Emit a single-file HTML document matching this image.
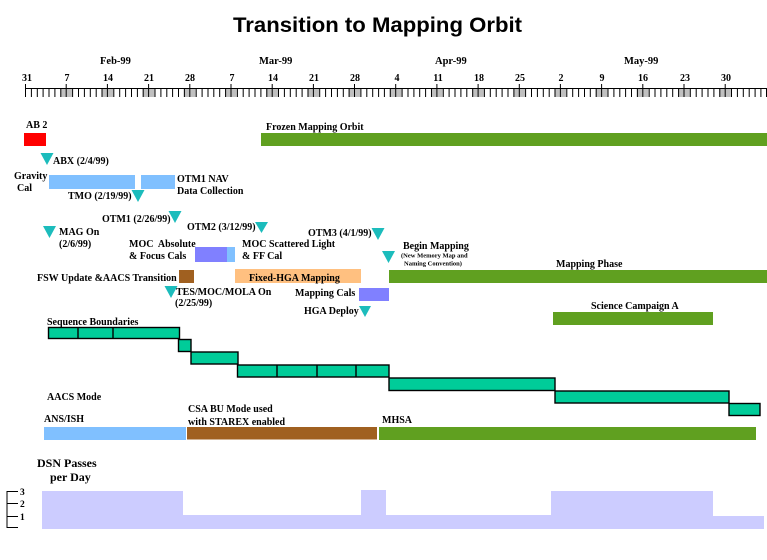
<!DOCTYPE html>
<html><head><meta charset="utf-8"><style>
html,body{margin:0;padding:0;background:#fff;}
svg{display:block;}
text{font-family:"Liberation Serif",serif;font-weight:bold;font-size:10px;fill:#000;}
.t{font-family:"Liberation Sans",sans-serif;font-size:21px;}
.tiny{font-size:6.5px;}
.big{font-size:12px;}
</style></head><body>
<svg width="767" height="560" viewBox="0 0 767 560" xmlns="http://www.w3.org/2000/svg">
<rect width="767" height="560" fill="#fff"/>
<text class="t" x="233" y="32" textLength="289" lengthAdjust="spacingAndGlyphs">Transition to Mapping Orbit</text>

<!-- months -->
<text x="100" y="64" style="font-size:10.5px">Feb-99</text>
<text x="259" y="64" style="font-size:10.5px">Mar-99</text>
<text x="435" y="64" style="font-size:10.5px">Apr-99</text>
<text x="624" y="64" style="font-size:10.5px">May-99</text>

<!-- weekend shading -->
<g fill="#c0c0c0">
<rect x="60.3" y="88" width="11.8" height="9"/>
<rect x="101.5" y="88" width="11.8" height="9"/>
<rect x="142.6" y="88" width="11.8" height="9"/>
<rect x="183.8" y="88" width="11.8" height="9"/>
<rect x="225" y="88" width="11.8" height="9"/>
<rect x="266.2" y="88" width="11.8" height="9"/>
<rect x="307.4" y="88" width="11.8" height="9"/>
<rect x="348.5" y="88" width="11.8" height="9"/>
<rect x="389.7" y="88" width="11.8" height="9"/>
<rect x="430.9" y="88" width="11.8" height="9"/>
<rect x="472.1" y="88" width="11.8" height="9"/>
<rect x="513.3" y="88" width="11.8" height="9"/>
<rect x="554.4" y="88" width="11.8" height="9"/>
<rect x="595.6" y="88" width="11.8" height="9"/>
<rect x="636.8" y="88" width="11.8" height="9"/>
<rect x="678" y="88" width="11.8" height="9"/>
<rect x="719.1" y="88" width="11.8" height="9"/>
</g>
<line x1="25" y1="88.5" x2="767" y2="88.5" stroke="#000" stroke-width="1"/>
<g id="ticks" stroke="#000" stroke-width="1"></g>

<!-- day labels -->
<g text-anchor="middle">
<text x="27" y="81">31</text>
<text x="67" y="81">7</text>
<text x="108" y="81">14</text>
<text x="149" y="81">21</text>
<text x="190" y="81">28</text>
<text x="232" y="81">7</text>
<text x="273" y="81">14</text>
<text x="314" y="81">21</text>
<text x="355" y="81">28</text>
<text x="397" y="81">4</text>
<text x="438" y="81">11</text>
<text x="479" y="81">18</text>
<text x="520" y="81">25</text>
<text x="561" y="81">2</text>
<text x="602" y="81">9</text>
<text x="643" y="81">16</text>
<text x="685" y="81">23</text>
<text x="726" y="81">30</text>
</g>

<!-- AB2 / frozen -->
<text x="26" y="128">AB 2</text>
<rect x="24" y="133" width="22" height="13" fill="#ff0000"/>
<text x="266" y="130">Frozen Mapping Orbit</text>
<rect x="261" y="133" width="506" height="13" fill="#60a020"/>

<!-- triangles -->
<g fill="#1cbcbc">
<polygon points="40.5,153 53.5,153 47,165"/>
<polygon points="131.5,190 144.5,190 138,202"/>
<polygon points="168.5,211 181.5,211 175,223"/>
<polygon points="255,222 268,222 261.5,233"/>
<polygon points="43,226 56,226 49.5,238"/>
<polygon points="371.5,228 384.5,228 378,240"/>
<polygon points="382,251 395,251 388.5,263"/>
<polygon points="164.5,286 177.5,286 171,298"/>
<polygon points="359,306 371,306 365,317"/>
</g>

<text x="53" y="164">ABX (2/4/99)</text>
<text x="14" y="179">Gravity</text>
<text x="17" y="191">Cal</text>
<rect x="49" y="175" width="86" height="14" fill="#80c0ff"/>
<rect x="141" y="175" width="34" height="14" fill="#80c0ff"/>
<text x="177" y="182">OTM1 NAV</text>
<text x="177" y="194">Data Collection</text>
<text x="68" y="199">TMO (2/19/99)</text>
<text x="102" y="222">OTM1 (2/26/99)</text>
<text x="187" y="230">OTM2 (3/12/99)</text>
<text x="59" y="235">MAG On</text>
<text x="59" y="247">(2/6/99)</text>
<text x="308" y="236">OTM3 (4/1/99)</text>

<text x="129" y="247" xml:space="preserve">MOC  Absolute</text>
<text x="129" y="259">&amp; Focus Cals</text>
<rect x="195" y="247" width="32" height="15" fill="#8080ff"/>
<rect x="227" y="247" width="8" height="15" fill="#80c0ff"/>
<text x="242" y="247">MOC Scattered Light</text>
<text x="242" y="259">&amp; FF Cal</text>

<text x="403" y="249">Begin Mapping</text>
<text class="tiny" x="401" y="257.5">(New Memory Map and</text>
<text class="tiny" x="404" y="265.5">Naming Convention)</text>

<text x="37" y="281">FSW Update &amp;AACS Transition</text>
<rect x="179" y="270" width="15" height="13" fill="#a06020"/>
<rect x="235" y="269" width="126" height="14" fill="#ffc080"/>
<text x="249" y="281">Fixed-HGA Mapping</text>
<text x="556" y="267">Mapping Phase</text>
<rect x="389" y="270" width="378" height="13" fill="#60a020"/>

<text x="176" y="295">TES/MOC/MOLA On</text>
<text x="175" y="306">(2/25/99)</text>
<text x="295" y="296">Mapping Cals</text>
<rect x="359" y="288" width="30" height="13" fill="#8080ff"/>
<text x="304" y="314">HGA Deploy</text>

<text x="591" y="309">Science Campaign A</text>
<rect x="553" y="312" width="160" height="13" fill="#60a020"/>

<text x="47" y="325">Sequence Boundaries</text>
<g fill="#00cc99" stroke="#000" stroke-width="1.4">
<rect x="48.5" y="327.5" width="131" height="11"/>
<rect x="178.5" y="339.5" width="12.5" height="12"/>
<rect x="191" y="352" width="47" height="12"/>
<rect x="237.5" y="365" width="151.5" height="12"/>
<rect x="389" y="378" width="166" height="12.5"/>
<rect x="555" y="391" width="174" height="12"/>
<rect x="729" y="403.5" width="31" height="12"/>
</g>
<g stroke="#000" stroke-width="1.4">
<line x1="78" y1="327.5" x2="78" y2="338.5"/>
<line x1="113" y1="327.5" x2="113" y2="338.5"/>
<line x1="277" y1="365" x2="277" y2="377"/>
<line x1="317" y1="365" x2="317" y2="377"/>
<line x1="356" y1="365" x2="356" y2="377"/>
</g>
<text x="47" y="400">AACS Mode</text>

<text x="44" y="422">ANS/ISH</text>
<text x="188" y="412">CSA BU Mode used</text>
<text x="188" y="425">with STAREX enabled</text>
<text x="382" y="423">MHSA</text>
<rect x="44" y="427" width="142" height="13" fill="#80c0ff"/>
<rect x="187" y="427" width="190" height="12.5" fill="#a06020"/>
<rect x="379" y="427" width="377" height="13" fill="#60a020"/>

<text class="big" x="37" y="467">DSN Passes</text>
<text class="big" x="50" y="481">per Day</text>

<polygon fill="#ccccff" points="42,491 183,491 183,515 361,515 361,490 386,490 386,515 551,515 551,491 713,491 713,516 764,516 764,529 42,529"/>
<g stroke="#000" stroke-width="1">
<line x1="7" y1="491" x2="7" y2="528"/>
<line x1="7" y1="491.5" x2="18" y2="491.5"/>
<line x1="7" y1="503.5" x2="18" y2="503.5"/>
<line x1="7" y1="516.5" x2="18" y2="516.5"/>
<line x1="7" y1="527.5" x2="18" y2="527.5"/>
</g>
<text x="20" y="495" style="font-size:9.5px">3</text>
<text x="20" y="507" style="font-size:9.5px">2</text>
<text x="20" y="520" style="font-size:9.5px">1</text>

<!-- day ticks -->
<g stroke="#000" stroke-width="1">
<path d="M25.5 84V97 M31.4 88V97 M37.3 88V97 M43.1 88V97 M49 88V97 M54.9 88V97 M60.8 88V97 M66.2 84V97 M72.6 88V97 M78.5 88V97 M84.4 88V97 M90.3 88V97 M96.2 88V97 M102 88V97 M107.4 84V97 M113.8 88V97 M119.7 88V97 M125.6 88V97 M131.5 88V97 M137.4 88V97 M143.2 88V97 M148.6 84V97 M155 88V97 M160.9 88V97 M166.8 88V97 M172.6 88V97 M178.5 88V97 M184.4 88V97 M189.8 84V97 M196.2 88V97 M202.1 88V97 M208 88V97 M213.8 88V97 M219.7 88V97 M225.6 88V97 M231 84V97 M237.4 88V97 M243.2 88V97 M249.1 88V97 M255 88V97 M260.9 88V97 M266.8 88V97 M272.2 84V97 M278.5 88V97 M284.4 88V97 M290.3 88V97 M296.2 88V97 M302.1 88V97 M308 88V97 M313.4 84V97 M319.7 88V97 M325.6 88V97 M331.5 88V97 M337.4 88V97 M343.3 88V97 M349.1 88V97 M354.5 84V97 M360.9 88V97 M366.8 88V97 M372.7 88V97 M378.6 88V97 M384.4 88V97 M390.3 88V97 M395.7 84V97 M402.1 88V97 M408 88V97 M413.9 88V97 M419.7 88V97 M425.6 88V97 M431.5 88V97 M436.9 84V97 M443.3 88V97 M449.1 88V97 M455 88V97 M460.9 88V97 M466.8 88V97 M472.7 88V97 M478.1 84V97 M484.4 88V97 M490.3 88V97 M496.2 88V97 M502.1 88V97 M508 88V97 M513.9 88V97 M519.3 84V97 M525.6 88V97 M531.5 88V97 M537.4 88V97 M543.3 88V97 M549.2 88V97 M555 88V97 M560.4 84V97 M566.8 88V97 M572.7 88V97 M578.6 88V97 M584.5 88V97 M590.3 88V97 M596.2 88V97 M601.6 84V97 M608 88V97 M613.9 88V97 M619.8 88V97 M625.6 88V97 M631.5 88V97 M637.4 88V97 M642.8 84V97 M649.2 88V97 M655 88V97 M660.9 88V97 M666.8 88V97 M672.7 88V97 M678.6 88V97 M684 84V97 M690.3 88V97 M696.2 88V97 M702.1 88V97 M708 88V97 M713.9 88V97 M719.8 88V97 M725.2 84V97 M731.5 88V97 M737.4 88V97 M743.3 88V97 M749.2 88V97 M755.1 88V97 M760.9 88V97 M766.5 88V97"/>
</g>
</svg>
</body></html>
